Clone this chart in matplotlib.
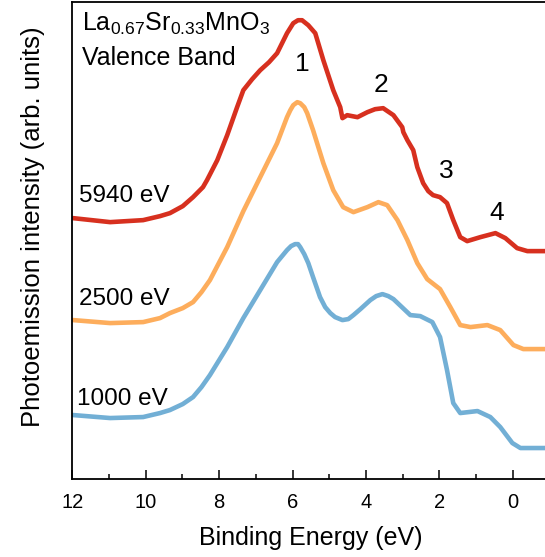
import numpy as np
import matplotlib
matplotlib.use("Agg")
from matplotlib import pyplot as plt
from matplotlib.ticker import MultipleLocator

plt.rcParams['font.family'] = ['Liberation Sans', 'DejaVu Sans']
plt.rcParams['mathtext.fontset'] = 'custom'
plt.rcParams['mathtext.rm'] = 'Liberation Sans'
plt.rcParams['mathtext.it'] = 'Liberation Sans'

# valence band spectra, binding energy (eV) vs intensity (arb. units, offset)
e_5940 = [11.98, 10.97, 10.07, 9.61, 9.34, 8.99, 8.71, 8.44, 8.33, 8.05, 7.78, 7.51,
          7.34, 7.10, 6.88, 6.64, 6.42, 6.15, 5.98, 5.85, 5.74, 5.57, 5.38, 5.16,
          4.89, 4.70, 4.64, 4.51, 4.23, 3.96, 3.75, 3.53, 3.25, 3.01, 2.98, 2.87,
          2.71, 2.60, 2.44, 2.30, 2.17, 1.98, 1.79, 1.62, 1.43, 1.24, 0.88, 0.47,
          0.20, -0.12, -0.40, -0.89]
i_5940 = [2.61, 2.57, 2.59, 2.63, 2.66, 2.73, 2.82, 2.92, 2.99, 3.19, 3.44, 3.72,
          3.89, 4.00, 4.09, 4.17, 4.26, 4.46, 4.56, 4.59, 4.59, 4.54, 4.46, 4.19,
          3.89, 3.72, 3.61, 3.64, 3.62, 3.67, 3.70, 3.71, 3.64, 3.52, 3.47, 3.39,
          3.29, 3.12, 2.96, 2.88, 2.84, 2.82, 2.76, 2.59, 2.42, 2.38, 2.42, 2.46,
          2.41, 2.31, 2.28, 2.28]

e_2500 = [11.98, 10.97, 10.07, 9.61, 9.34, 8.99, 8.71, 8.48, 8.25, 7.78, 7.34, 6.88,
          6.42, 6.15, 6.06, 5.98, 5.87, 5.79, 5.68, 5.60, 5.44, 5.16, 4.89, 4.62,
          4.34, 3.96, 3.66, 3.42, 3.14, 2.87, 2.60, 2.33, 1.98, 1.70, 1.43, 1.15,
          0.69, 0.34, -0.02, -0.29, -0.89]
i_2500 = [1.59, 1.56, 1.57, 1.61, 1.66, 1.71, 1.77, 1.87, 1.99, 2.32, 2.68, 3.02,
          3.36, 3.62, 3.69, 3.74, 3.77, 3.76, 3.72, 3.66, 3.49, 3.16, 2.89, 2.72,
          2.67, 2.72, 2.77, 2.74, 2.59, 2.39, 2.16, 2.00, 1.90, 1.72, 1.54, 1.52,
          1.54, 1.49, 1.34, 1.30, 1.30]

e_1000 = [11.98, 10.97, 10.07, 9.61, 9.34, 8.99, 8.71, 8.48, 8.25, 7.78, 7.34, 6.88,
          6.42, 6.15, 6.04, 5.93, 5.85, 5.79, 5.68, 5.57, 5.44, 5.25, 5.11, 4.97,
          4.84, 4.64, 4.48, 4.34, 4.15, 3.88, 3.72, 3.55, 3.39, 3.25, 2.79, 2.52,
          2.19, 1.98, 1.79, 1.62, 1.43, 0.96, 0.61, 0.34, 0.01, -0.21, -0.89]
i_1000 = [0.64, 0.61, 0.62, 0.66, 0.69, 0.75, 0.82, 0.92, 1.04, 1.32, 1.61, 1.89,
          2.17, 2.29, 2.33, 2.35, 2.35, 2.32, 2.25, 2.16, 2.02, 1.82, 1.72, 1.66,
          1.62, 1.59, 1.60, 1.64, 1.70, 1.79, 1.83, 1.85, 1.83, 1.80, 1.64, 1.63,
          1.57, 1.42, 1.09, 0.76, 0.66, 0.68, 0.62, 0.52, 0.36, 0.31, 0.31]

spectra = [
    ("5940 eV", e_5940, i_5940, "#d7301f", 11.82, 2.77),
    ("2500 eV", e_2500, i_2500, "#fdad5c", 11.82, 1.74),
    ("1000 eV", e_1000, i_1000, "#72afd5", 11.87, 0.74),
]

# feature labels: (text, energy, intensity)
peaks = [("1", 5.74, 4.15), ("2", 3.58, 3.94), ("3", 1.81, 3.08), ("4", 0.45, 2.665)]

fig = plt.figure(figsize=(5.45, 5.57), dpi=100)
ax = fig.add_axes([0.1327, 0.140, 0.8673, 0.856])

for label, e, inten, col, xtxt, ytxt in spectra:
    ax.plot(e, inten, color=col, lw=3.3, solid_joinstyle='round', solid_capstyle='round')
    ax.text(xtxt, ytxt, label, fontsize=17.5, ha='left', va='baseline')

for txt, e, y in peaks:
    ax.text(e, y, txt, fontsize=19, ha='center', va='center')

ax.text(0.021, 0.941, r"La$_{0.67}$Sr$_{0.33}$MnO$_3$", transform=ax.transAxes,
        fontsize=18, ha='left', va='baseline')
ax.text(0.021, 0.868, "Valence Band", transform=ax.transAxes,
        fontsize=18, ha='left', va='baseline')

ax.set_xlim(12, -0.88)
ax.set_ylim(0, 4.77)
ax.xaxis.set_major_locator(MultipleLocator(2))
ax.xaxis.set_minor_locator(MultipleLocator(1))
ax.tick_params(axis='x', which='major', direction='in', length=6.5, width=1.1,
               labelsize=14.5, pad=10)
ax.tick_params(axis='x', which='minor', direction='in', length=3.5, width=1.1)
ax.set_yticks([])
ax.spines['right'].set_visible(False)
for s in ['left', 'bottom', 'top']:
    ax.spines[s].set_linewidth(1.3)

ax.set_xlabel("Binding Energy (eV)", fontsize=18)
ax.set_ylabel("Photoemission intensity (arb. units)", fontsize=18.5)
ax.xaxis.set_label_coords(0.504, -0.098)
ax.yaxis.set_label_coords(-0.057, 0.530)

fig.savefig("out.png", dpi=100)
